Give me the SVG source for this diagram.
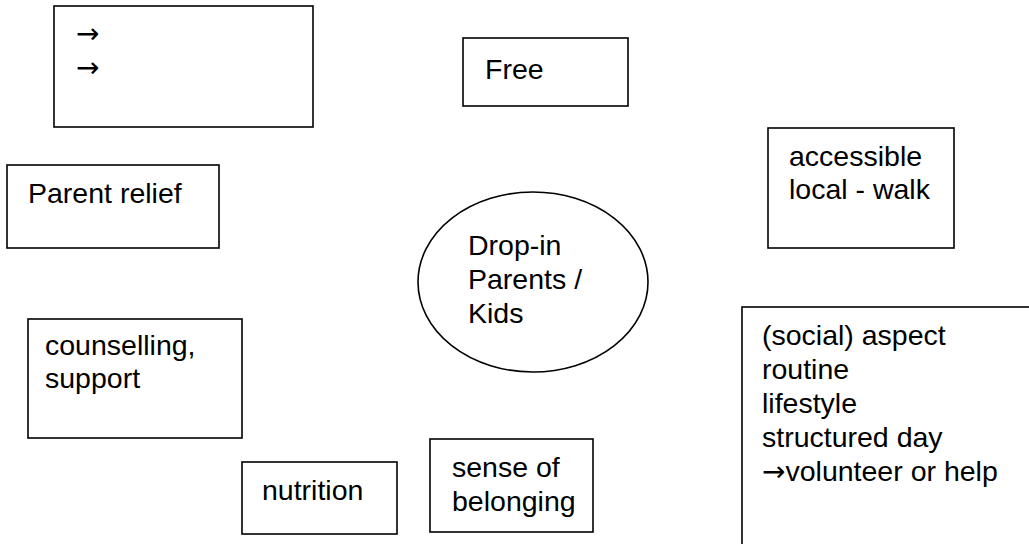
<svg xmlns="http://www.w3.org/2000/svg" width="1029" height="544" viewBox="0 0 1029 544">
<style>
.box{fill:#fff;stroke:#000;stroke-width:1.6}
.t{font-family:"Liberation Sans",Arial,"DejaVu Sans",sans-serif;font-size:28.5px;fill:#000}
.ar{font-family:"DejaVu Sans",sans-serif;font-size:28px}
</style>
<rect width="1029" height="544" fill="#fff"/>
<g id="connectors"></g>
<g id="arrows-box">
<rect class="box" x="54" y="6" width="259" height="121"/>
<text class="t ar" x="76" y="43">→</text>
<text class="t ar" x="76" y="77">→</text>
</g>
<g id="free">
<rect class="box" x="463" y="38" width="165" height="68"/>
<text class="t" x="485" y="79">Free</text>
</g>
<g id="accessible">
<rect class="box" x="768" y="128" width="186" height="120"/>
<text class="t" x="789" y="166">accessible</text>
<text class="t" x="789" y="199">local - walk</text>
</g>
<g id="parent-relief">
<rect class="box" x="7" y="165" width="212" height="83"/>
<text class="t" x="28" y="203">Parent relief</text>
</g>
<g id="center">
<ellipse class="box" cx="533" cy="282" rx="115" ry="90"/>
<text class="t" x="468" y="255">Drop-in</text>
<text class="t" x="468" y="289">Parents /</text>
<text class="t" x="468" y="323">Kids</text>
</g>
<g id="counselling">
<rect class="box" x="28" y="319" width="214" height="119"/>
<text class="t" x="45" y="355">counselling,</text>
<text class="t" x="45" y="388">support</text>
</g>
<g id="nutrition">
<rect class="box" x="242" y="462" width="155" height="72"/>
<text class="t" x="262" y="500">nutrition</text>
</g>
<g id="belonging">
<rect class="box" x="430" y="439" width="163" height="93"/>
<text class="t" x="452" y="477">sense of</text>
<text class="t" x="452" y="511">belonging</text>
</g>
<g id="social">
<rect class="box" x="742" y="307" width="300" height="260"/>
<text class="t" x="762" y="345">(social) aspect</text>
<text class="t" x="762" y="379">routine</text>
<text class="t" x="762" y="413">lifestyle</text>
<text class="t" x="762" y="447">structured day</text>
<text class="t" x="762" y="481"><tspan class="ar">→</tspan>volunteer or help</text>
</g>
</svg>
